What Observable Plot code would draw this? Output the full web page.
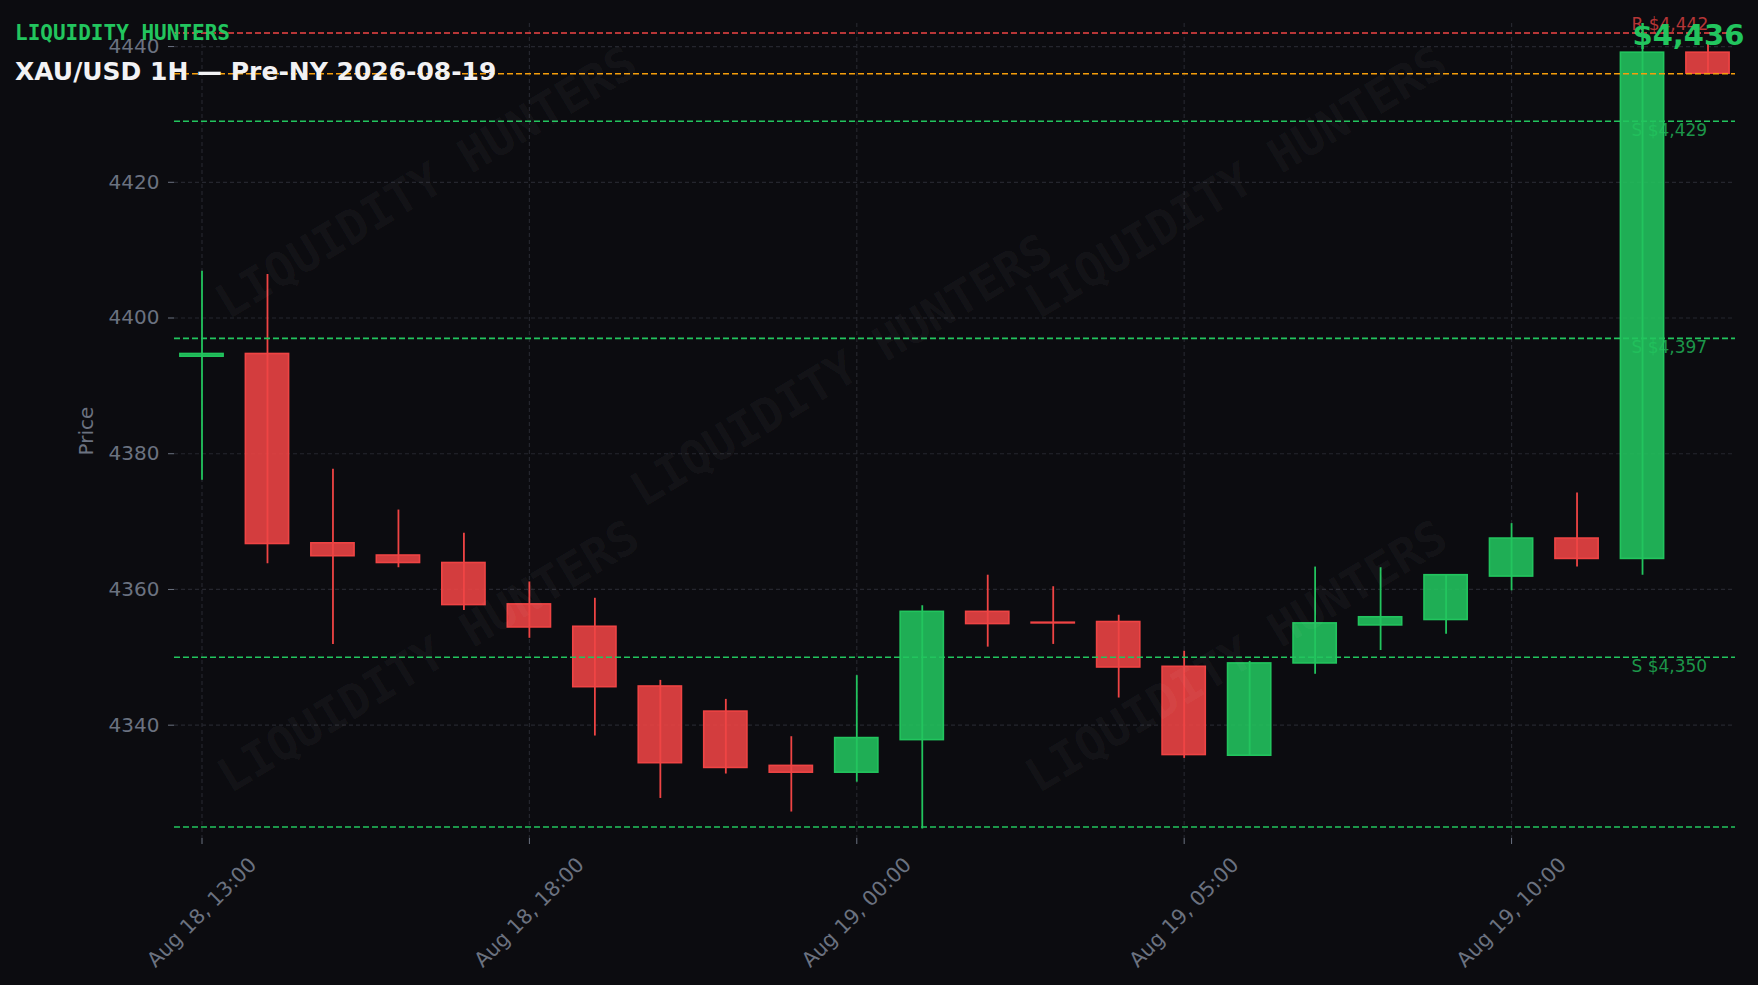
<!DOCTYPE html>
<html><head><meta charset="utf-8">
<script src="https://cdn.jsdelivr.net/npm/d3@7"></script>
<script src="https://cdn.jsdelivr.net/npm/@observablehq/plot@0.6"></script>
<style>
html,body{margin:0;padding:0;background:#0c0c10;overflow:hidden}
#wrap{position:relative;width:1758px;height:985px}
#wrap svg{position:absolute;left:0;top:0}
.wm{position:absolute;font-family:"DejaVu Sans Mono",monospace;font-weight:bold;font-size:47px;line-height:47px;color:rgba(255,255,255,0.045);white-space:nowrap;transform:translate(-50%,-50%) rotate(-31deg);pointer-events:none}
.t1{position:absolute;left:15px;top:23px;font-family:"DejaVu Sans Mono",monospace;font-weight:bold;font-size:21px;line-height:21px;color:#22c55e;white-space:nowrap;z-index:3}
.t2{position:absolute;left:15px;top:59px;font-family:"DejaVu Sans",sans-serif;font-weight:bold;font-size:25px;line-height:25px;color:#f2f2f4;white-space:nowrap;z-index:3}
</style></head><body>
<div id="wrap">
<div class="t1">LIQUIDITY HUNTERS</div>
<div class="t2">XAU/USD 1H — Pre-NY 2026-08-19</div>
</div>
<script>
// ---- data ----
const times = [
  "Aug 18, 13:00","Aug 18, 14:00","Aug 18, 15:00","Aug 18, 16:00","Aug 18, 17:00",
  "Aug 18, 18:00","Aug 18, 19:00","Aug 18, 20:00","Aug 18, 21:00","Aug 18, 22:00",
  "Aug 19, 00:00","Aug 19, 01:00","Aug 19, 02:00","Aug 19, 03:00","Aug 19, 04:00",
  "Aug 19, 05:00","Aug 19, 06:00","Aug 19, 07:00","Aug 19, 08:00","Aug 19, 09:00",
  "Aug 19, 10:00","Aug 19, 11:00","Aug 19, 12:00","Aug 19, 13:00"
];
const opens  = [4394.3,4394.7,4366.8,4365.0,4363.9,4357.8,4354.5,4345.7,4342.0,4334.0,
                4333.0,4337.8,4356.7,4355.1,4355.2,4348.6,4335.5,4349.1,4354.7,4355.5,
                4361.9,4367.5,4364.5,4439.1];
const highs  = [4406.9,4406.4,4377.7,4371.7,4368.3,4361.1,4358.7,4346.6,4343.8,4338.3,
                4347.3,4357.6,4362.1,4360.4,4356.2,4350.9,4349.4,4363.3,4363.2,4362.1,
                4369.7,4374.2,4440.6,4440.6];
const lows   = [4376.1,4363.8,4351.9,4363.2,4356.9,4352.8,4338.4,4329.2,4332.8,4327.2,
                4331.6,4324.7,4351.5,4351.9,4344.0,4335.1,4335.5,4347.5,4351.0,4353.4,
                4359.8,4363.3,4362.1,4436.0];
const closes = [4394.7,4366.7,4364.9,4363.9,4357.7,4354.4,4345.6,4334.4,4333.7,4333.0,
                4338.1,4356.7,4354.9,4355.0,4348.5,4335.6,4349.1,4355.0,4355.9,4362.1,
                4367.5,4364.5,4439.1,4436.0];
const levelPrices = [4442, 4436, 4429, 4397, 4350, 4325];
const levelKinds  = ["R", "P", "S", "S", "S", "S"];
const levelLabels = ["R $4,442", "", "S $4,429", "S $4,397", "S $4,350", ""];
const currentPrice = 4436;
const yTicks = [4340, 4360, 4380, 4400, 4420, 4440];
const xTickLabels = ["Aug 18, 13:00","Aug 18, 18:00","Aug 19, 00:00","Aug 19, 05:00","Aug 19, 10:00"];
const watermarkText = "LIQUIDITY HUNTERS";

// ---- build ----
const GREEN = "#22c55e", RED = "#ef4444", ORANGE = "#f59e0b", GRAY = "#6b7280", GRID = "#25262e";
const candles = times.map((t, i) => ({t, open: opens[i], high: highs[i], low: lows[i], close: closes[i], up: closes[i] >= opens[i]}));
const levels = levelPrices.map((p, i) => ({price: p, kind: levelKinds[i], label: levelLabels[i]}));
const levelColor = k => k === "R" ? RED : k === "P" ? ORANGE : GREEN;
const candleColor = d => d.up ? GREEN : RED;

const chart = Plot.plot({
  width: 1758, height: 985,
  marginLeft: 174, marginRight: 23, marginTop: 23, marginBottom: 147,
  style: {background: "transparent", color: GRAY, fontFamily: "DejaVu Sans, sans-serif", fontSize: "20px"},
  x: {type: "band", domain: times, paddingInner: 0.34, paddingOuter: 0.09, round: false, axis: null},
  y: {domain: [4323.3, 4443.4], axis: null},
  marks: [
    Plot.gridY(yTicks, {stroke: GRID, strokeOpacity: 1, strokeWidth: 1.2, strokeDasharray: "4,3"}),
    Plot.gridX(xTickLabels, {stroke: GRID, strokeOpacity: 1, strokeWidth: 1.2, strokeDasharray: "4,3"}),
    Plot.axisY(yTicks, {anchor: "left", tickSize: 6, tickPadding: 9, fontSize: 20, label: null,
      tickFormat: d => String(d), stroke: GRAY, fill: GRAY}),
    Plot.axisX(xTickLabels, {anchor: "bottom", tickSize: 6, tickFormat: () => "", label: null, stroke: GRAY}),
    Plot.text(xTickLabels, {x: d => d, text: d => d, frameAnchor: "bottom", dy: 74, rotate: -45,
      textAnchor: "middle", lineAnchor: "middle", fill: GRAY, fontSize: 20.5}),
    Plot.text(["Price"], {text: d => d, frameAnchor: "left", dx: -88, rotate: -90, textAnchor: "middle",
      lineAnchor: "middle", fill: GRAY, fontSize: 20}),
    Plot.ruleX(candles, {x: "t", y1: "low", y2: "high", stroke: candleColor, strokeWidth: 1.8}),
    Plot.barY(candles, {x: "t", y1: "open", y2: "close", fill: candleColor, fillOpacity: 0.88,
      stroke: candleColor, strokeWidth: 1.6}),
    Plot.ruleY(levels, {y: "price", stroke: d => levelColor(d.kind), strokeWidth: 1.6, strokeDasharray: "6,3"}),
    Plot.text(levels.filter(d => d.label && d.kind === "S"), {y: "price", text: "label", frameAnchor: "right",
      dx: -104, dy: 3, textAnchor: "start", lineAnchor: "top", fill: GREEN, fillOpacity: 0.75, fontSize: 17}),
    Plot.text(levels.filter(d => d.label && d.kind === "R"), {y: "price", text: "label", frameAnchor: "right",
      dx: -104, dy: -3, textAnchor: "start", lineAnchor: "bottom", fill: RED, fillOpacity: 0.75, fontSize: 17}),
    Plot.text([currentPrice], {y: d => d, text: d => "$" + d3.format(",")(d), frameAnchor: "right",
      dx: -103, dy: -29, textAnchor: "start", lineAnchor: "bottom", fill: GREEN, fontSize: 29, fontWeight: "bold"})
  ]
});
const wrap = document.getElementById("wrap");
wrap.insertBefore(chart, wrap.firstChild);

// faint watermark pattern
const wmPos = [[426,182],[841,370],[1236,182],[428,656],[1236,656]];
for (const [x, y] of wmPos) {
  const d = document.createElement("div");
  d.className = "wm"; d.textContent = watermarkText;
  d.style.left = x + "px"; d.style.top = y + "px";
  wrap.appendChild(d);
}
</script>
</body></html>
